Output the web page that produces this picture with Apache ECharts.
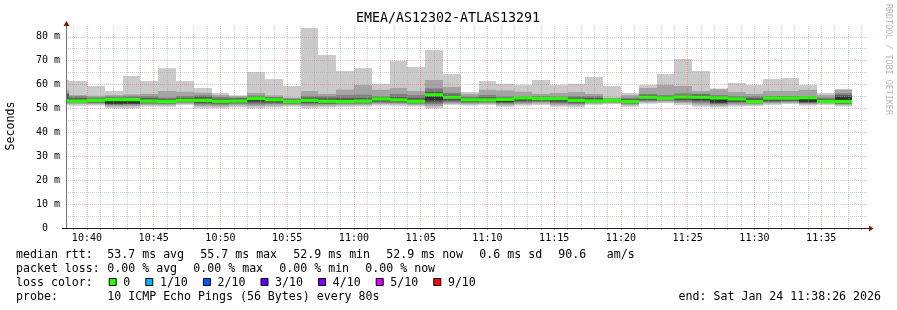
<!DOCTYPE html>
<html><head><meta charset="utf-8">
<script src="https://cdn.jsdelivr.net/npm/echarts@6/dist/echarts.min.js"></script>
<style>html,body{margin:0;padding:0;background:#fff}#c{width:897px;height:310px}</style>
</head><body><div id="c"></div>
<script>
// ---------- data ----------
const chartTitle = "EMEA/AS12302-ATLAS13291";
const viewStart = "10:38:26";
const viewEnd = "11:38:26";
const firstBinStart = "10:37:20";
const probeStepSec = 80;           // one bin per probe round (10 pings every 80s)
const yMax = 84.5;

// 10 sorted ping RTTs (ms) per 80 s bin, lowest (ping1) to highest (ping10)
const ping1 = [51.5,51.1,51.2,50.1,50.1,50.8,50.7,51.5,50.1,50.1,50.5,50.1,50.4,50.8,50.1,50.4,50.7,50.8,51.2,51.1,50.8,50.1,51.5,51.2,51.5,50.7,51.2,51.5,50.7,50.4,51.5,51.8,50.7,52.0,52.2,51.5,50.7,50.4,50.8,51.0,51.5,51.9,51.2,51.5,50.8];
const ping2 = [52.0,51.9,51.8,50.9,51.0,51.5,51.4,52.0,51.0,50.9,51.3,51.0,51.2,51.4,51.0,51.2,51.4,51.5,51.9,51.8,51.5,51.0,52.0,51.8,52.0,51.4,51.9,52.1,51.5,51.3,52.0,52.2,51.4,52.6,52.8,52.3,51.6,51.2,51.6,51.6,52.1,52.4,51.8,52.0,51.5];
const ping3 = [52.3,52.4,52.3,51.5,51.6,52.0,51.9,52.5,51.7,51.6,51.9,51.7,51.9,51.9,51.7,51.8,51.9,52.0,52.4,52.3,52.0,51.8,52.6,52.3,52.5,52.0,52.5,52.7,52.1,51.9,52.5,52.6,51.9,53.1,53.3,52.9,52.4,51.8,52.2,52.1,52.6,52.8,52.2,52.4,51.9];
const ping4 = [52.6,52.7,52.6,51.8,51.9,52.4,52.3,52.8,52.2,52.1,52.3,52.4,52.4,52.3,52.3,52.1,52.3,52.4,52.9,52.7,52.4,52.6,53.2,52.7,52.9,52.4,53.0,53.1,52.6,52.4,52.8,52.9,52.3,53.6,53.7,53.5,53.1,52.2,52.7,52.4,53.0,53.2,52.5,52.7,52.2];
const ping5 = [52.9,53.0,52.9,52.0,52.1,52.8,52.6,53.1,52.8,52.6,52.7,53.2,52.8,52.6,52.9,52.4,52.6,52.8,53.4,53.1,52.8,53.4,53.9,53.0,53.3,52.8,53.6,53.6,53.2,52.9,53.0,53.2,52.6,54.2,54.1,54.2,53.7,52.5,53.3,52.7,53.5,53.7,52.8,52.9,52.5];
const ping6 = [53.5,53.3,53.6,53.5,53.6,53.3,53.1,53.6,53.6,53.2,53.3,54.4,53.8,53.1,53.7,53.2,53.1,53.4,54.2,53.8,53.3,55.9,55.0,53.8,53.9,54.0,54.6,54.3,54.3,53.7,53.4,53.6,53.2,55.0,54.5,55.1,54.9,54.5,54.2,53.2,54.5,54.5,54.7,53.3,54.8];
const ping7 = [56.0,54.3,54.1,54.3,54.4,54.3,53.8,54.4,54.9,54.0,54.2,54.9,54.3,53.6,54.5,54.3,54.3,54.3,54.7,54.8,54.4,57.0,55.8,54.4,54.7,54.5,54.8,54.8,54.7,54.5,54.4,53.9,53.9,55.6,55.0,55.5,55.8,55.0,54.7,54.3,54.9,54.9,55.0,54.0,55.6];
const ping8 = [56.5,55.2,54.6,55.0,55.2,55.2,54.5,55.2,55.5,54.8,54.5,55.4,54.8,54.1,55.3,55.2,55.6,55.8,55.1,56.1,55.6,58.4,56.6,55.0,55.6,55.0,55.0,55.2,55.0,55.2,55.2,54.1,54.5,56.1,55.6,56.3,56.1,55.6,55.2,55.1,55.2,55.2,55.2,54.5,56.3];
const ping9 = [57.5,55.6,55.3,55.6,55.9,56.1,57.3,57.0,56.6,55.6,55.1,56.5,55.5,54.5,57.3,56.1,57.9,59.8,57.8,58.6,57.3,61.9,59.0,56.1,57.8,57.5,57.0,56.1,56.5,56.9,56.1,54.5,55.6,58.6,59.8,59.4,57.3,58.0,56.9,56.1,57.3,57.3,57.8,55.6,57.8];
const ping10 = [61.9,61.5,59.4,57.3,63.6,61.5,66.9,61.5,58.6,56.5,55.5,65.3,62.3,59.4,83.7,72.4,65.7,66.9,60.3,69.9,67.4,74.5,64.4,56.9,61.5,60.3,59.8,61.9,59.8,60.3,63.2,59.4,56.5,59.8,64.4,70.7,65.7,58.4,60.7,59.8,62.3,62.8,59.8,56.5,58.2];
const medianRtt = [53.2,53.1,53.4,53.7,53.7,53.1,52.9,53.4,53.4,53.0,53.1,54.2,53.6,52.9,53.4,53.0,52.9,53.1,54.0,53.6,53.0,55.7,54.7,53.6,53.6,53.8,54.4,54.1,54.1,53.4,53.1,53.4,52.9,54.7,54.3,54.8,54.7,54.4,54.0,52.9,54.3,54.3,54.5,53.0,52.9];

const xTickLabels = ["10:40","10:45","10:50","10:55","11:00","11:05","11:10","11:15","11:20","11:25","11:30","11:35"];
const yTickLabels = ["0","10 m","20 m","30 m","40 m","50 m","60 m","70 m","80 m"];

const rttStats = ["53.7 ms avg","55.7 ms max","52.9 ms min","52.9 ms now","0.6 ms sd","90.6","am/s"];
const lossStats = ["0.00 % avg","0.00 % max","0.00 % min","0.00 % now"];
const lossLabels = ["0","1/10","2/10","3/10","4/10","5/10","9/10"];
const lossColors = ["#26ff00","#00b8ff","#0059ff","#5e00ff","#7e00ff","#dd00ff","#ff0000"];
const probeText = "10 ICMP Echo Pings (56 Bytes) every 80s";
const endText = "end: Sat Jan 24 11:38:26 2026";
const watermark = "RRDTOOL / TOBI OETIKER";

// ---------- styles / layout ----------
const smokeColors = ["#cacaca","#a4a4a4","#7e7e7e","#585858","#323232"];
const MONO = '"DejaVu Sans Mono", "Liberation Mono", monospace';
const rttX = [107.3,200.3,293.3,386.3,479.3,558.3,606.7];
const lossX = [107.3,193.3,279.3,365.3];

function toSec(s){const p=s.split(":").map(Number);return p[0]*3600+p[1]*60+(p[2]||0);}
function hhmm(sec){const h=Math.floor(sec/3600),m=Math.floor((sec%3600)/60);return String(h).padStart(2,"0")+":"+String(m).padStart(2,"0");}
const t0 = toSec(viewStart), t1 = toSec(viewEnd);
const bin0 = toSec(firstBinStart);
const binStarts = ping1.map((_, i) => bin0 + i*probeStepSec);

const xCats = []; for (let s=t0; s<=t1; s++) xCats.push(s);
const yCats = []; for (let v=0; v<=Math.round(yMax*10); v++) yCats.push(v);

const pings = [ping1,ping2,ping3,ping4,ping5,ping6,ping7,ping8,ping9,ping10];

function clipRect(shape, params){
  const cs = params.coordSys;
  return echarts.graphic.clipRectByRect(shape, {x:cs.x,y:cs.y,width:cs.width,height:cs.height});
}
function bandSeries(k){
  const lo = pings[k], hi = pings[9-k];
  return {
    type:'custom', xAxisIndex:0, yAxisIndex:0, silent:true, z:2+k*0.01,
    encode:{x:[0,1], y:[2,3]},
    data: binStarts.map((t,i)=>[t, t+probeStepSec, lo[i], hi[i]]),
    renderItem(params, api){
      const a = api.coord([api.value(0), api.value(3)]);
      const b = api.coord([api.value(1), api.value(2)]);
      const x0 = Math.round(a[0]), x1 = Math.round(b[0]);
      const shape = clipRect({x:x0, y:a[1], width:x1-x0, height:b[1]-a[1]}, params);
      return shape && {type:'rect', shape, style:{fill:smokeColors[k]}};
    }
  };
}
const series = [0,1,2,3,4].map(bandSeries);
series.push({
  type:'custom', xAxisIndex:0, yAxisIndex:0, silent:true, z:3,
  encode:{x:[0,1], y:2},
  data: binStarts.map((t,i)=>[t, t+probeStepSec, medianRtt[i]]),
  renderItem(params, api){
    const a = api.coord([api.value(0), api.value(2)]);
    const b = api.coord([api.value(1), api.value(2)]);
    const x0 = Math.round(a[0]), x1 = Math.round(b[0]);
    const shape = clipRect({x:x0, y:a[1]-1.6, width:x1-x0, height:3.2}, params);
    return shape && {type:'rect', shape, style:{fill:lossColors[0]}};
  }
});

const majorGrid = {color:'rgba(240,90,90,0.45)', width:1, type:[1,1]};
const minorGrid = {color:'rgba(160,160,160,0.5)', width:1, type:[1,1]};

const isMajorX = i => { const s=t0+i; return s%300===0 && xTickLabels.includes(hhmm(s)); };
const isMinorX = i => { const s=t0+i; return s%60===0 && !isMajorX(i); };

const txt = (text, x, y, extra) => Object.assign({
  type:'text', x, y, z:20,
  style:Object.assign({text, font:'11.6px '+MONO, fill:'#000', textAlign:'left', textVerticalAlign:'middle', align:'left', verticalAlign:'middle'}, extra||{})
});

const graphics = [];
graphics.push(txt(chartTitle, 448, 19, {font:'13.3px '+MONO, textAlign:'center', align:'center'}));
graphics.push(Object.assign(txt("Seconds", 11, 126, {textAlign:'center', align:'center'}), {rotation:Math.PI/2}));
graphics.push(Object.assign(txt(watermark, 888, 4, {font:'8.4px '+MONO, fill:'#b8b8b8'}), {rotation:-Math.PI/2}));
// legend rows
graphics.push(txt("median rtt:", 16, 254.5));
rttStats.forEach((s,i)=>graphics.push(txt(s, rttX[i], 254.5)));
graphics.push(txt("packet loss:", 16, 268.5));
lossStats.forEach((s,i)=>graphics.push(txt(s, lossX[i], 268.5)));
graphics.push(txt("loss color:", 16, 282.5));
let bx = 108.7;
lossLabels.forEach((l,i)=>{
  graphics.push({type:'rect', z:20, shape:{x:bx+0.5, y:278.5, width:7, height:7}, style:{fill:lossColors[i], stroke:'#000', lineWidth:1}});
  graphics.push(txt(l, bx+14.6, 282.5));
  bx = bx + 14.6 + l.length*7 + 15;
});
graphics.push(txt("probe:", 16, 296.5));
graphics.push(txt(probeText, 107.3, 296.5));
graphics.push(txt(endText, 881, 296.5, {textAlign:'right', align:'right'}));
// axis extensions and arrows
graphics.push({type:'line', z:19, shape:{x1:62, y1:228.5, x2:869, y2:228.5}, style:{stroke:'#202020', lineWidth:1}});
graphics.push({type:'line', z:19, shape:{x1:66.5, y1:228, x2:66.5, y2:23}, style:{stroke:'#707070', lineWidth:1}});
graphics.push({type:'polygon', z:20, shape:{points:[[869,225.5],[873.5,228.5],[869,231.5]]}, style:{fill:'#7f1010'}});
graphics.push({type:'polygon', z:20, shape:{points:[[63.5,26],[66.5,21],[69.5,26]]}, style:{fill:'#7f1010'}});

const option = {
  animation:false,
  backgroundColor:'#ffffff',
  grid:{left:66, top:26, width:801, height:202, containLabel:false},
  xAxis:[
    {type:'value', min:t0, max:t1, show:false, position:'bottom'},
    {type:'category', data:xCats, boundaryGap:false, z:10, position:'bottom', offset:0,
     axisLine:{show:false}, axisLabel:{show:false},
     axisTick:{show:true, interval:(i)=>isMinorX(i), length:2, lineStyle:{color:'rgba(150,150,150,0.8)'}},
     splitLine:{show:true, interval:(i)=>isMinorX(i), lineStyle:minorGrid}},
    {type:'category', data:xCats, boundaryGap:false, z:11, position:'bottom', offset:0,
     axisLine:{show:false},
     axisTick:{show:true, interval:(i)=>isMajorX(i), length:2, lineStyle:{color:'rgba(235,70,70,0.8)'}},
     axisLabel:{show:true, interval:(i)=>isMajorX(i), margin:5, fontFamily:MONO, fontSize:10, color:'#000',
       formatter:(v,i)=>hhmm(t0+i)},
     splitLine:{show:true, interval:(i)=>isMajorX(i), lineStyle:majorGrid}}
  ],
  yAxis:[
    {type:'value', min:0, max:yMax, show:false, position:'left'},
    {type:'category', data:yCats, boundaryGap:false, z:10, position:'left', offset:0,
     axisLine:{show:false}, axisTick:{show:false}, axisLabel:{show:false},
     splitLine:{show:true, interval:(i)=>i%50===0 && i%100!==0, lineStyle:minorGrid}},
    {type:'category', data:yCats, boundaryGap:false, z:11, position:'left', offset:0,
     axisLine:{show:false}, axisTick:{show:false},
     axisLabel:{show:true, interval:(i)=>i%100===0, margin:6, fontFamily:MONO, fontSize:10, color:'#000',
       formatter:(v,i)=>{const l=yTickLabels[i/100]; return l.length<3 ? l.padEnd(3,' ') : l;}},
     splitLine:{show:true, interval:(i)=>i%100===0 && i>0, lineStyle:majorGrid}}
  ],
  series,
  graphic:{elements:graphics}
};
const chart = echarts.init(document.getElementById('c'), null, {renderer:'canvas'});
chart.setOption(option);
</script></body></html>
